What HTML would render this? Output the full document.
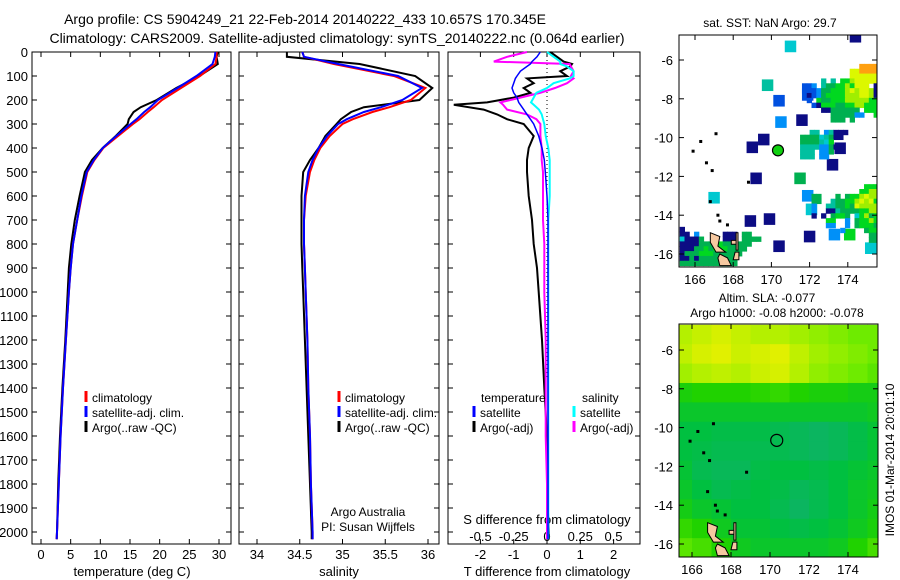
<!DOCTYPE html>
<html><head><meta charset="utf-8"><style>
html,body{margin:0;padding:0;background:#fff;}
svg{display:block;font-family:"Liberation Sans",sans-serif;}
text{fill:#000;}
</style></head><body>
<svg id="fig" width="900" height="580" viewBox="0 0 900 580">
<text x="305" y="24" font-size="14" text-anchor="middle">Argo profile: CS 5904249_21 22-Feb-2014 20140222_433 10.657S 170.345E</text>
<text x="337" y="43" font-size="14" text-anchor="middle">Climatology: CARS2009. Satellite-adjusted climatology: synTS_20140222.nc (0.064d earlier)</text>
<g id="g"></g>
</svg>
<script>
// ---------- data ----------
const tDepth=[0,20,50,100,150,200,230,250,280,300,350,400,450,500,600,700,800,900,1000,1200,1400,1600,1800,2000,2030];
const tClim=[29.6,29.6,29.4,26.8,23.6,20.4,19,18,16.6,15.5,13,10.5,9,7.8,6.9,6.1,5.4,5,4.7,4.2,3.7,3.3,3,2.7,2.65];
const tSat=[29.4,29.3,28.9,26.2,23.0,19.7,18.4,17.4,16.1,15.1,12.7,10.4,8.9,7.7,6.8,6.1,5.4,5,4.7,4.2,3.7,3.3,3,2.7,2.65];
const tArgo=[29.8,29.6,29.8,26.7,22.8,19.5,16.8,15.6,14.8,14.6,12.6,10.4,8.6,7.4,6.5,5.7,5.1,4.7,4.5,4.1,3.6,3.2,2.9,2.7,2.65];
const sClim=[34.53,34.55,34.9,35.6,35.97,35.8,35.55,35.35,35.12,35.0,34.85,34.74,34.67,34.62,34.57,34.55,34.55,34.56,34.57,34.59,34.6,34.62,34.63,34.65,34.65];
const sSat=[34.53,34.55,34.95,35.65,35.93,35.7,35.45,35.25,35.05,34.95,34.82,34.72,34.65,34.6,34.56,34.55,34.55,34.56,34.57,34.59,34.6,34.62,34.63,34.65,34.65];
const sArgo=[34.35,34.35,35.2,35.85,36.05,35.9,35.25,35.1,34.98,34.93,34.8,34.72,34.62,34.54,34.52,34.52,34.52,34.53,34.54,34.56,34.58,34.6,34.62,34.64,34.64];
const dDepth=[0,20,40,50,60,80,100,110,130,150,170,190,210,220,240,260,280,300,350,400,450,500,600,700,800,900,1000,1200,1400,1600,1800,2000,2030];
const dTArgo=[0.1,0.3,0.5,0.75,0.7,0.4,0.6,-0.6,-0.4,-0.7,-0.5,-1.0,-1.8,-2.8,-1.9,-1.5,-1.2,-0.7,-0.4,-0.55,-0.6,-0.6,-0.55,-0.45,-0.4,-0.3,-0.25,-0.15,-0.08,0,0,0.05,0.05];
const dTSat=[-0.2,-0.3,-0.45,-0.5,-0.6,-0.8,-0.9,-0.95,-1.0,-1.05,-1.0,-0.9,-0.85,-0.8,-0.7,-0.6,-0.5,-0.4,-0.25,-0.15,-0.08,-0.05,0,0.03,0.03,0.03,0.03,0.03,0.03,0.03,0.03,0.03,0.03];
const dSArgo=[-0.15,-0.3,-0.4,0.17,0.18,0.2,0.18,0.2,0.15,0.06,-0.05,-0.2,-0.35,-0.33,-0.3,-0.15,-0.08,-0.05,-0.05,-0.04,-0.04,-0.03,-0.03,-0.03,-0.02,-0.02,-0.02,-0.01,-0.01,-0.01,0,0,0];
const dSSat=[0.0,0.05,0.1,0.1,0.15,0.2,0.2,0.17,0.05,0.0,-0.08,-0.1,-0.12,-0.1,-0.06,-0.04,-0.03,-0.02,-0.01,0.01,0.02,0.02,0.02,0.01,0.01,0.01,0.01,0.01,0.01,0.01,0.01,0.01,0.01];
const depthTicks=[0,100,200,300,400,500,600,700,800,900,1000,1100,1200,1300,1400,1500,1600,1700,1800,1900,2000];
const tTicks=[0,5,10,15,20,25,30];
const sTicks=[34,34.5,35,35.5,36];
const sTickLabels=["34","34.5","35","35.5","36"];
const tdTicks=[-2,-1,0,1,2];
const sdTicks=[-0.5,-0.25,0,0.25,0.5];
const sdTickLabels=["-0.5","-0.25","0","0.25","0.5"];
const lonTicks=[166,168,170,172,174];
const latTicks=[-6,-8,-10,-12,-14,-16];
const argoLon=170.345, argoLat=-10.657;
const palette=["#0c0c84","#0050e0","#0090f8","#00c8d0","#00c0a0","#00b050","#00d820","#a0ee00","#dcf800","#ffa010"];
// isolated SST cells [lon,lat,colorIndex]
const sstCells=[[171.0,-5.3,3],[174.4,-4.8,0],[169.8,-7.3,4],[170.5,-9.2,2],[171.6,-9.1,0],[169.6,-10.1,0],[169.0,-10.5,0],[173.6,-10.55,0],[173.2,-11.4,0],[169.2,-12.1,0],[171.5,-12.1,5],[171.9,-13.0,2],[167.0,-13.1,3],[168.9,-14.3,0],[172.0,-15.1,0],[170.4,-15.6,0],[173.3,-15.0,2],[175.2,-15.7,3],[174.1,-15.0,6],[172.1,-13.7,3],[169.9,-14.2,0],[171.9,-7.8,1],[170.4,-8.1,1]];
// SST clusters: origin lon, origin lat (top-left), rows of colour indices at 0.25 deg
const clusterA={lon:171.6,lat:-6.2,rows:["............9999","..........889999","..........888888","....4.4.66788888","112.4556676888.0","1112556667878870",".012566667778870",".1.6556667777766","..10666556677666","....00555555.666","......5555522..6","......555.5....."]};
const clusterB={lon:171.5,lat:-9.6,rows:["..44.24000","555534500.","5555436...","444422500.","444.225...","444.22...."]};
const clusterC={lon:172.1,lat:-12.4,rows:["...........6666.","..........66777.","55...5.566787777","55..455667878676","2..4455658777776","2..0045555667755","0.0.5665.3675666","...66..2.5667666","...22..2.566655.","......2....566..","............55..","............55.."]};
const clusterD={lon:165.2,lat:-14.6,rows:["0................","00.2.....000.55..","30005....000.5555","000055556555555.","00055656665555...","0555666555555....","005055555555.....","555555555555....."]};
// SLA field rows (1-degree cells from lon 165 eastward, lat -4.7 southward)
const slaRows=[
[0.72,0.75,0.78,0.75,0.72,0.72,0.7,0.68,0.66,0.64,0.64],
[0.74,0.78,0.8,0.76,0.78,0.8,0.74,0.7,0.68,0.66,0.64],
[0.7,0.72,0.74,0.72,0.76,0.78,0.72,0.68,0.66,0.64,0.62],
[0.55,0.56,0.56,0.56,0.57,0.58,0.56,0.55,0.55,0.54,0.54],
[0.52,0.52,0.52,0.52,0.52,0.52,0.52,0.52,0.52,0.52,0.53],
[0.5,0.5,0.49,0.49,0.49,0.48,0.47,0.46,0.47,0.49,0.51],
[0.5,0.49,0.48,0.48,0.48,0.48,0.47,0.46,0.47,0.49,0.51],
[0.51,0.48,0.47,0.47,0.49,0.5,0.5,0.49,0.5,0.51,0.52],
[0.52,0.5,0.48,0.49,0.5,0.49,0.47,0.48,0.5,0.52,0.53],
[0.54,0.52,0.51,0.5,0.5,0.48,0.46,0.48,0.5,0.52,0.54],
[0.58,0.56,0.53,0.51,0.51,0.5,0.49,0.5,0.51,0.53,0.55],
[0.62,0.6,0.56,0.53,0.52,0.52,0.52,0.52,0.53,0.56,0.6]];

// ---------- helpers ----------
const NS="http://www.w3.org/2000/svg";
const G=document.getElementById('g');
function el(tag,attrs,parent){const e=document.createElementNS(NS,tag);for(const k in attrs)e.setAttribute(k,attrs[k]);(parent||G).appendChild(e);return e;}
function txt(x,y,s,size,anchor,parent){const e=el('text',{x:x,y:y,'font-size':size||13,'text-anchor':anchor||'middle'},parent);e.textContent=s;return e;}
const yD=d=>52+d*0.24;
const xT=t=>41+t*5.933;
const xS=s=>257+(s-34)*85.5;
const xTd=v=>547+v*33.3;
const xSd=v=>547+v*133;
const TOP=52,BOT=544;
const panels=[{x0:32,x1:231},{x0:239,x1:439},{x0:448,x1:640}];

function line(depths,vals,fx,color,w,name){
  const p=depths.map((d,i)=>fx(vals[i]).toFixed(1)+','+yD(d).toFixed(1)).join(' ');
  const e=el('polyline',{points:p,fill:'none',stroke:color,'stroke-width':w||2});
  
  
}
panels.forEach((pn,i)=>{
  const r=el('rect',{x:pn.x0,y:TOP,width:pn.x1-pn.x0,height:BOT-TOP,fill:'none',stroke:'#000','stroke-width':1});
  
  
  depthTicks.forEach(d=>{
    el('line',{x1:pn.x0,x2:pn.x0+5,y1:yD(d),y2:yD(d),stroke:'#000'});
    el('line',{x1:pn.x1-5,x2:pn.x1,y1:yD(d),y2:yD(d),stroke:'#000'});
  });
});
depthTicks.forEach(d=>{
  const t=txt(28,yD(d)+5,String(d),13,'end');
  
  
});
function xTicks(ticks,labels,fx,pn,ylab){
  ticks.forEach((v,i)=>{
    const x=fx(v);
    el('line',{x1:x,x2:x,y1:BOT,y2:BOT-5,stroke:'#000'});
    el('line',{x1:x,x2:x,y1:TOP,y2:TOP+5,stroke:'#000'});
    const t=txt(x,ylab,labels[i],13);
    
    
  });
}
xTicks(tTicks,tTicks.map(String),xT,panels[0],559);
xTicks(sTicks,sTickLabels,xS,panels[1],559);
xTicks(tdTicks,tdTicks.map(String),xTd,panels[2],559);
sdTicks.forEach((v,i)=>{const t=txt(xSd(v),541,sdTickLabels[i],13);
  
  });
let t;
t=txt(132,576,'temperature (deg C)',13);
t=txt(339,576,'salinity',13);
t=txt(547,576,'T difference from climatology',13);
t=txt(547,524,'S difference from climatology',13);
t=txt(368,516,'Argo Australia',12);
t=txt(368,531,'PI: Susan Wijffels',12);

el('line',{x1:547,x2:547,y1:TOP,y2:380,stroke:'#000','stroke-dasharray':'1,3'});

line(tDepth,tArgo,xT,'#000',2,'temperature-argo-line');
line(tDepth,tClim,xT,'#f00',2,'temperature-climatology-line');
line(tDepth,tSat,xT,'#00f',2,'temperature-satellite-line');
line(tDepth,sArgo,xS,'#000',2,'salinity-argo-line');
line(tDepth,sClim,xS,'#f00',2,'salinity-climatology-line');
line(tDepth,sSat,xS,'#00f',2,'salinity-satellite-line');
line(dDepth,dTArgo,xTd,'#000',2,'t-diff-argo-line');
line(dDepth,dSArgo,xSd,'#f0f',2,'s-diff-argo-line');
line(dDepth,dSSat,xSd,'#0ff',2,'s-diff-satellite-line');
line(dDepth,dTSat,xTd,'#00f',1.5,'t-diff-satellite-line');

function legItem(x,y,color,label,name){
  el('line',{x1:x,x2:x,y1:y-11,y2:y,stroke:color,'stroke-width':3});
  const t=txt(x+6,y,label,12,'start');
  
  
}
legItem(86,402,'#f00','climatology','legend-climatology');
legItem(86,417,'#00f','satellite-adj. clim.','legend-satellite');
legItem(86,432,'#000','Argo(..raw -QC)','legend-argo');
legItem(339,402,'#f00','climatology','legend-climatology-2');
legItem(339,417,'#00f','satellite-adj. clim.','legend-satellite-2');
legItem(339,432,'#000','Argo(..raw -QC)','legend-argo-2');
t=txt(481,402,'temperature',12,'start');
t=txt(582,402,'salinity',12,'start');
legItem(474,417,'#00f','satellite','legend-t-satellite');
legItem(474,432,'#000','Argo(-adj)','legend-t-argo');
legItem(574,417,'#0ff','satellite','legend-s-satellite');
legItem(574,432,'#f0f','Argo(-adj)','legend-s-argo');

// ---------- maps ----------
function makeMap(m){
  const lx=lon=>m.x166+(lon-166)*m.k;
  const ly=lat=>m.y6+(-6-lat)*m.ky;
  const cp=el('clipPath',{id:m.id+'clip'});
  el('rect',{x:m.x0,y:m.y0,width:m.x1-m.x0,height:m.y1-m.y0},cp);
  const grp=el('g',{'clip-path':'url(#'+m.id+'clip)'});
  
  
  return {lx,ly,grp};
}
function mapFrame(m,lx,ly){
  const r=el('rect',{x:m.x0,y:m.y0,width:m.x1-m.x0,height:m.y1-m.y0,fill:'none',stroke:'#000'});
  
  
  lonTicks.forEach(l=>{const x=lx(l);
    el('line',{x1:x,x2:x,y1:m.y0,y2:m.y0+5,stroke:'#000'});
    el('line',{x1:x,x2:x,y1:m.y1,y2:m.y1-5,stroke:'#000'});
    const t=txt(x,m.y1+17,String(l),13);
    
    });
  latTicks.forEach(l=>{const y=ly(l);
    el('line',{x1:m.x0,x2:m.x0+5,y1:y,y2:y,stroke:'#000'});
    el('line',{x1:m.x1,x2:m.x1-5,y1:y,y2:y,stroke:'#000'});
    const t=txt(m.x0-6,y+5,String(l),13,'end');
    
    });
}
function islands(grp,lx,ly){
  const shapes=[[[166.8,-14.9],[167.3,-15.1],[167.2,-15.6],[167.6,-15.9],[167.1,-15.9],[166.8,-15.4]],
    [[167.3,-16.0],[167.7,-16.2],[167.9,-16.6],[167.3,-16.6],[167.2,-16.2]],
    [[167.9,-15.3],[168.2,-15.3],[168.2,-15.5],[167.9,-15.5]],
    [[168.1,-15.9],[168.3,-15.9],[168.3,-16.3],[168.0,-16.3]],
    [[168.15,-14.9],[168.25,-14.9],[168.25,-15.8],[168.15,-15.8]]];
  shapes.forEach(s=>{const p=el('polygon',{points:s.map(q=>lx(q[0]).toFixed(1)+','+ly(q[1]).toFixed(1)).join(' '),fill:'#f6c8a0',stroke:'#000','stroke-width':1},grp);
    
    });
  [[166.3,-10.2],[165.9,-10.7],[166.6,-11.3],[166.9,-11.7],[166.8,-13.3],[167.2,-14.0],[167.3,-14.3],[167.7,-14.5],[168.8,-12.3],[167.1,-9.8]].forEach(q=>{
    el('rect',{x:lx(q[0])-1.5,y:ly(q[1])-1.5,width:3,height:3,fill:'#000'},grp);
  });
}
const M1={id:'sst-map',x0:679,x1:877,y0:35,y1:267,x166:695,k:19.1,y6:60,ky:19.4};
(function(){
  const {lx,ly,grp}=makeMap(M1);
  sstCells.forEach(c=>{
    const r=el('rect',{x:lx(c[0]-0.3),y:ly(c[1]+0.3),width:0.6*M1.k,height:0.6*M1.ky,fill:palette[c[2]]},grp);
    
    
  });
  [clusterA,clusterB,clusterC,clusterD].forEach(cl=>{
    cl.rows.forEach((row,ri)=>{[...row].forEach((ch,ci)=>{
      if(ch==='.')return;
      const r=el('rect',{x:lx(cl.lon+ci*0.25),y:ly(cl.lat-ri*0.25),width:0.25*M1.k+0.5,height:0.25*M1.ky+0.5,fill:palette[+ch]},grp);
      
      
    });});
  });
  islands(grp,lx,ly);
  const c=el('circle',{cx:lx(argoLon),cy:ly(argoLat),r:5.5,fill:'#10d010',stroke:'#000','stroke-width':1.2});
  
  
  mapFrame(M1,lx,ly);
  const t=txt(770,27,'sat. SST: NaN Argo: 29.7',12);
  
  
})();
function slaColor(v){
  const stops=[[0.44,[16,176,112]],[0.5,[0,192,64]],[0.56,[32,210,0]],[0.64,[110,235,0]],[0.72,[180,240,0]],[0.8,[225,240,0]]];
  if(v<=stops[0][0])return 'rgb('+stops[0][1]+')';
  for(let i=1;i<stops.length;i++){if(v<=stops[i][0]){const a=stops[i-1],b=stops[i],f=(v-a[0])/(b[0]-a[0]);
    return 'rgb('+a[1].map((c,j)=>Math.round(c+(b[1][j]-c)*f)).join(',')+')';}}
  return 'rgb('+stops[stops.length-1][1]+')';
}
const M2={id:'sla-map',x0:679,x1:878,y0:324,y1:557,x166:692,k:19.5,y6:350,ky:19.4};
(function(){
  const {lx,ly,grp}=makeMap(M2);
  slaRows.forEach((row,ri)=>row.forEach((v,ci)=>{
    const r=el('rect',{x:lx(165+ci),y:ly(-4.7-ri),width:M2.k+0.6,height:M2.ky+0.6,fill:slaColor(v)},grp);
    
    
  }));
  islands(grp,lx,ly);
  const c=el('circle',{cx:lx(argoLon),cy:ly(argoLat),r:6,fill:'none',stroke:'#000','stroke-width':1.2});
  
  
  mapFrame(M2,lx,ly);
  let t=txt(767,302,'Altim. SLA: -0.077',12);
  
  
  t=txt(777,317,'Argo h1000: -0.08 h2000: -0.078',12);
  
  
  t=txt(0,0,'IMOS 01-Mar-2014 20:01:10',12);
  t.setAttribute('transform','translate(894,460) rotate(-90)');
  
  
})();
</script>
</body></html>
